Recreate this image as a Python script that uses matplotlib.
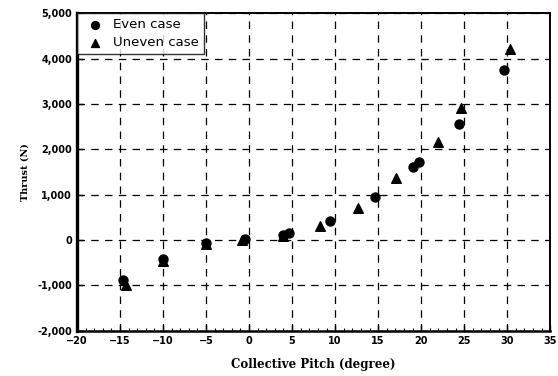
import matplotlib
matplotlib.use('Agg')
import matplotlib.pyplot as plt
from matplotlib.ticker import FuncFormatter, MultipleLocator

# Thrust vs collective pitch, two blade configurations
even_pitch = [-14.7, -10.0, -5.0, -0.5, 3.9, 4.6, 9.4, 14.6, 19.1, 19.8, 24.4, 29.6]
even_thrust = [-870, -410, -70, 20, 110, 150, 410, 940, 1620, 1730, 2560, 3740]

uneven_pitch = [-14.3, -10.0, -5.0, -0.8, 4.0, 8.2, 12.7, 17.1, 22.0, 24.6, 30.3]
uneven_thrust = [-1000, -450, -90, 10, 90, 300, 700, 1360, 2170, 2920, 4200]

fig = plt.figure(figsize=(5.58, 3.76), dpi=100)
ax = fig.add_axes([0.138, 0.12, 0.848, 0.845])

ax.scatter(even_pitch, even_thrust, marker='o', s=42, color='black', label='Even case', zorder=3)
ax.scatter(uneven_pitch, uneven_thrust, marker='^', s=48, color='black', label='Uneven case', zorder=3)

ax.set_xlim(-20, 35)
ax.set_ylim(-2000, 5000)
ax.xaxis.set_major_locator(MultipleLocator(5))
ax.xaxis.set_minor_locator(MultipleLocator(1))
ax.yaxis.set_major_locator(MultipleLocator(1000))
ax.yaxis.set_major_formatter(FuncFormatter(lambda v, p: f'{int(v):,}'))

ax.grid(True, which='major', color='black', linestyle=(0, (6, 5)), linewidth=0.9)
ax.tick_params(axis='both', which='major', direction='in', length=4, width=1, labelsize=7)
ax.tick_params(axis='x', which='minor', direction='in', length=2, width=0.8)
for lab in ax.get_xticklabels() + ax.get_yticklabels():
    lab.set_fontweight('bold')

ax.spines['left'].set_linewidth(2.4)
ax.spines['bottom'].set_linewidth(1.8)
for side in ['top', 'right']:
    ax.spines[side].set_linewidth(1.4)

ax.set_xlabel('Collective Pitch (degree)', family='DejaVu Serif', fontweight='bold',
              fontsize=8.5, labelpad=9)
ax.set_ylabel('Thrust (N)', family='DejaVu Serif', fontweight='bold', fontsize=7, labelpad=6)

leg = ax.legend(loc='upper left', bbox_to_anchor=(0.0, 1.0), borderaxespad=0.0,
                frameon=True, fancybox=False, edgecolor='black', fontsize=9.5,
                handletextpad=0.3, handlelength=2.0, borderpad=0.4, labelspacing=0.35)
leg.get_frame().set_linewidth(1.0)
for h in leg.legend_handles:
    h.set_sizes([32])

fig.savefig('out.png', dpi=100)
